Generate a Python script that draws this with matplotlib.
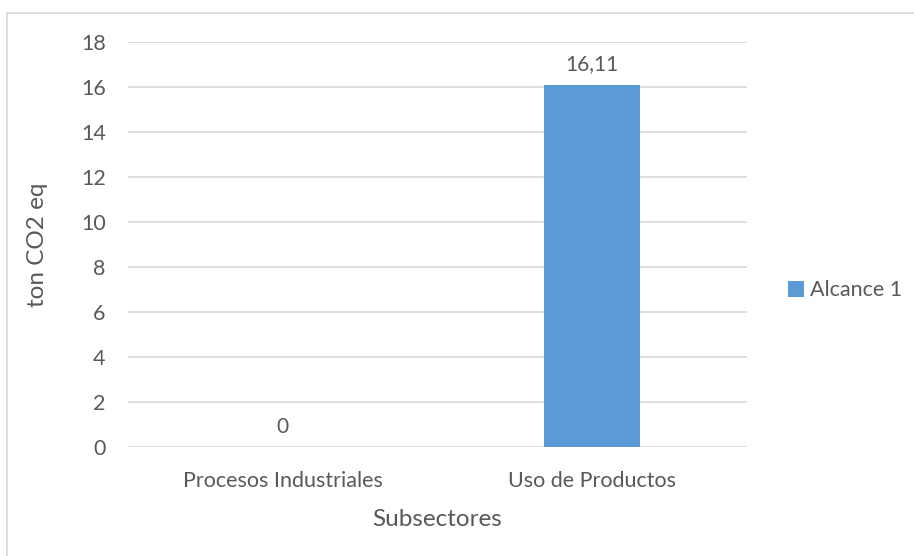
import matplotlib.pyplot as plt
from matplotlib.lines import Line2D

#----データ----
categorias = ['Procesos Industriales', 'Uso de Productos']
alcance1 = [0, 16.11]
etiquetas = ['0', '16,11']
yticks = [0, 2, 4, 6, 8, 10, 12, 14, 16, 18]

gris = '#595959'
plt.rcParams['font.family'] = ['Lato', 'DejaVu Sans']

fig = plt.figure(figsize=(9.14, 5.56), dpi=100)
ax = fig.add_axes([0.140, 0.196, 0.677, 0.7285])

x = range(len(categorias))
barras = ax.bar(x, alcance1, width=0.313, color='#5B9BD5', label='Alcance 1', zorder=3)

for xi, v, t in zip(x, alcance1, etiquetas):
    ax.text(xi, v + 0.45, t, ha='center', va='bottom', fontsize=15, color=gris)

ax.set_xlim(-0.5, 1.5)
ax.set_ylim(0, 18)
ax.set_yticks(yticks)
ax.set_xticks(list(x))
ax.set_xticklabels(categorias)
ax.tick_params(axis='both', length=0, labelsize=15.5, labelcolor=gris)
ax.tick_params(axis='y', pad=16)
ax.tick_params(axis='x', pad=17)
ax.yaxis.grid(True, color='#D9D9D9', linewidth=1.2, zorder=0)
for s in ax.spines.values():
    s.set_visible(False)

ax.set_ylabel('ton CO2 eq', fontsize=17.5, color=gris, labelpad=24)
ax.set_xlabel('Subsectores', fontsize=17.5, color=gris, labelpad=13)

fig.legend(handles=[barras], labels=['Alcance 1'], loc='center left',
           bbox_to_anchor=(0.841, 0.478), frameon=False, fontsize=15.5,
           labelcolor=gris, handlelength=0.75, handleheight=0.75, handletextpad=0.25)

#----枠線----
fig.add_artist(Line2D([7.5/914, 1], [1-12.5/556, 1-12.5/556], color='#D9D9D9', linewidth=1.3))
fig.add_artist(Line2D([7.5/914, 7.5/914], [0, 1-12.5/556], color='#D9D9D9', linewidth=1.3))

fig.savefig('out.png', dpi=100)
